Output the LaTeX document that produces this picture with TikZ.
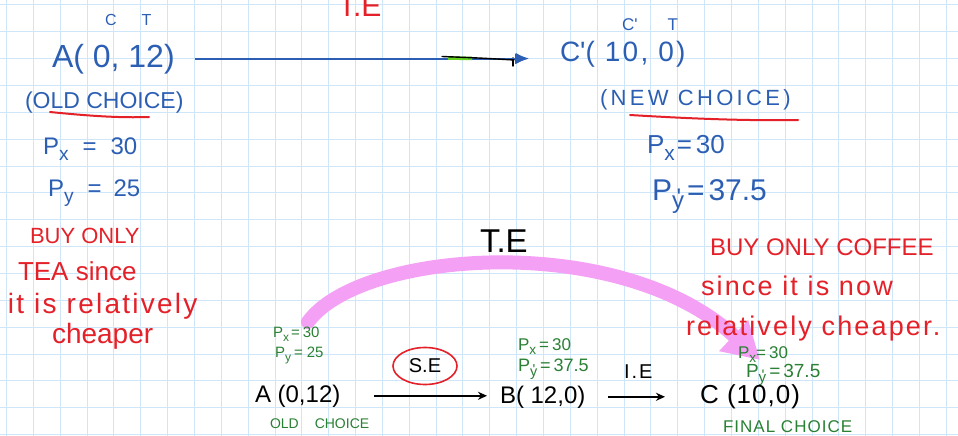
\documentclass[tikz,border=0pt]{standalone}
\usepackage{fontspec}
\setmainfont{Liberation Sans}
\usetikzlibrary{arrows.meta,shapes.geometric}
\definecolor{gridc}{RGB}{206,230,247}
\definecolor{inkblue}{RGB}{44,95,180}
\definecolor{inkred}{RGB}{228,32,40}
\definecolor{inkgreen}{RGB}{42,128,52}
\definecolor{inkpink}{RGB}{244,160,244}
\definecolor{hlgreen}{RGB}{100,210,30}
\newcommand\myfs[1]{\fontsize{#1}{#1}\selectfont}
\newcommand\myls[1]{\addfontfeatures{LetterSpace=#1}}
\newcommand\mysub[1]{\raisebox{-0.28em}{\scalebox{0.8}{#1}}}
\newcommand\mypsub[1]{\rlap{\raisebox{-0.18em}{\kern0.15em\scalebox{0.8}{\textquotesingle}}}\raisebox{-0.28em}{\scalebox{0.8}{#1}}}
\begin{document}
\begin{tikzpicture}[x=1pt,y=-1pt,
  lbl/.style={anchor=base west,inner sep=0pt,outer sep=0pt},
  bluetxt/.style={lbl,text=inkblue},
  redtxt/.style={lbl,text=inkred},
  greentxt/.style={lbl,text=inkgreen},
  blacktxt/.style={lbl,text=black},
  conn/.style={line width=1.8pt,-{Stealth[length=9pt,width=8pt]}},
  underl/.style={inkred,line width=2pt,line cap=round},
]
\clip (0,0) rectangle (958,436);
\fill[white] (0,0) rectangle (958,436);
\foreach \i in {0,...,35} \draw[gridc,line width=1pt] ({6.5+26.85*\i},0) -- ({6.5+26.85*\i},436);
\foreach \j in {0,...,16} \draw[gridc,line width=1pt] (0,{5+26.85*\j}) -- (958,{5+26.85*\j});

% total effect arc (pink)
\coordinate (teS) at (308,322);
\coordinate (teE) at (760,360);
\draw[inkpink,line width=14pt,line cap=round,-{Triangle[length=36pt,width=40pt]}]
  (teS) .. controls (360,250) and (620,230) .. (teE);

% top-left block
\node[bluetxt] (ctl) at (105,26) {\myfs{16}C\hspace{25pt}T};
\node[bluetxt] (Atop) at (52,67) {\myfs{32}A( 0, 12)};
\node[bluetxt] (oldch) at (25,108) {\myfs{23}(OLD CHOICE)};
\draw[underl] (50,112) .. controls (90,116) and (120,118) .. (149,117);
\node[bluetxt] (pxl) at (43,154) {\myfs{24}P\mysub{x}\hspace{14pt}=\hspace{14pt}30};
\node[bluetxt] (pyl) at (48,196) {\myfs{24}P\mysub{y}\hspace{14pt}=\hspace{12pt}25};

% top-right block
\node[bluetxt] (ctr) at (622,31) {\myfs{17}C\textquotesingle\hspace{30pt}T};
\node[bluetxt] (Ctop) at (560,62) {\myfs{28}\myls{8}C\textquotesingle( 10, 0)};
\node[bluetxt] (newch) at (600,105) {\myfs{22}\myls{15}(NEW CHOICE)};
\draw[underl] (630,115) .. controls (680,118) and (740,121) .. (798,120);
\node[bluetxt] (pxr) at (647,153) {\myfs{26}P\mysub{x}\hspace{2pt}=\hspace{4pt}30};
\node[bluetxt] (pyr) at (652,200) {\myfs{30}P\mypsub{y}\hspace{3pt}=\hspace{4pt}37.5};

% top arrow A -> C'
\draw[inkblue,line width=1.6pt,-{Latex[length=13pt,width=11pt]},shorten <=20pt,shorten >=32pt]
  (Atop.east) -- (Atop.east -| Ctop.west);
\draw[hlgreen,line width=3.5pt] (448,58) -- (472,58.5);
\draw[black,line width=1.4pt,line cap=round] (442,56.5) .. controls (480,58) .. (514,60);
\draw[black,line width=1.4pt,line cap=round] (513,58) -- (513,66);
\draw[inkblue,line width=1.6pt,-{Latex[length=13pt,width=11pt]}] (506,58.5) -- (529,58.5);
\node[redtxt] (tetop) at (338,17) {\myfs{30}T.E};

% red notes left
\node[redtxt] (nl1) at (30,243) {\myfs{22}BUY ONLY};
\node[redtxt] (nl2) at (18,280) {\myfs{26}TEA since};
\node[redtxt] (nl3) at (8,313) {\myfs{28}\myls{8}it is relatively};
\node[redtxt] (nl4) at (52,343) {\myfs{28}cheaper};

% red notes right
\node[redtxt] (nr1) at (710,255) {\myfs{24}BUY ONLY COFFEE};
\node[redtxt] (nr2) at (701,295) {\myfs{27}\myls{8}since it is now};
\node[redtxt] (nr3) at (686,335) {\myfs{27}\myls{8}relatively cheaper.};

% total effect label
\node[blacktxt] (te) at (480,252) {\myfs{33}T.E};

% green price labels
\node[greentxt] (gA1) at (273,337) {\myfs{15}P\mysub{x}\hspace{2pt}=\hspace{3pt}30};
\node[greentxt] (gA2) at (275,357) {\myfs{15}P\mysub{y}\hspace{3pt}=\hspace{4pt}25};
\node[greentxt] (oldc) at (270,428) {\myfs{14}OLD\hspace{16pt}CHOICE};
\node[greentxt] (gB1) at (518,350) {\myfs{17}P\mysub{x}\hspace{3pt}=\hspace{3pt}30};
\node[greentxt] (gB2) at (518,371) {\myfs{18}P\mypsub{y}\hspace{3pt}=\hspace{3pt}37.5};
\node[greentxt] (gC1) at (738,358) {\myfs{17}P\mysub{x}=\hspace{3pt}30};
\node[greentxt] (gC2) at (746,377) {\myfs{19}P\mypsub{y}\hspace{3pt}=\hspace{3pt}37.5};
\node[greentxt] (finc) at (723,432) {\myfs{17}\myls{6}FINAL CHOICE};

% bottom row
\node[blacktxt] (Abot) at (255,402) {\myfs{24}A (0,12)};
\node[blacktxt] (Bbot) at (500,403) {\myfs{24}B( 12,0)};
\node[blacktxt] (Cbot) at (700,403) {\myfs{26}\myls{4}C (10,0)};
\node[ellipse,draw=inkred,line width=1.6pt,minimum width=64pt,minimum height=37pt,inner sep=0pt,font=\myfs{20}] (se) at (425,366) {S.E};
\node[blacktxt] (ie) at (624,378) {\myfs{20}\myls{10}I.E};

\draw[conn,shorten <=34pt,shorten >=13pt] (Abot.east) -- (Abot.east -| Bbot.west);
\draw[conn,shorten <=23pt,shorten >=35pt] (Bbot.east) -- (Bbot.east -| Cbot.west);
\end{tikzpicture}
\end{document}
